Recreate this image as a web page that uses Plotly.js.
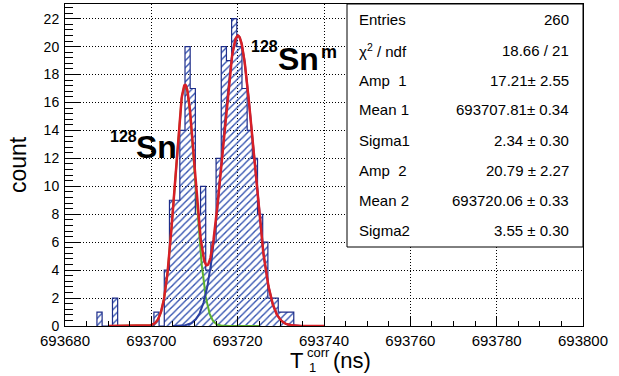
<!DOCTYPE html>
<html>
<head>
<meta charset="utf-8">
<script src="https://cdn.plot.ly/plotly-3.0.1.min.js"></script>
<style>html,body{margin:0;padding:0;background:#fff;}#plot{width:619px;height:376px;}</style>
</head>
<body>
<div id="plot"></div>
<script>
// ---- data ----
const binWidth = 1.2;
const binCenters = [693688.0, 693689.2, 693690.4, 693691.6, 693692.8, 693694.0, 693695.2, 693696.4, 693697.6, 693698.8,
  693700.0, 693701.2, 693702.4, 693703.6, 693704.8, 693706.0, 693707.2, 693708.4, 693709.6, 693710.8,
  693712.0, 693713.2, 693714.4, 693715.6, 693716.8, 693718.0, 693719.2, 693720.4, 693721.6, 693722.8,
  693724.0, 693725.2, 693726.4, 693727.6, 693728.8, 693730.0, 693731.2, 693732.4];
const counts = [1, 0, 0, 2, 0, 0, 0, 0, 0, 0,
  0, 1, 0, 4, 9, 9, 14, 20, 17, 8,
  10, 4, 6, 12, 20, 19, 22, 20, 17, 14,
  12, 8, 6, 2, 2, 1, 1, 1];

const fitAmp = [17.21, 20.79];
const fitMean = [693707.81, 693720.06];
const fitSigma = [2.34, 3.55];
const fitRangeTotal = [693690, 693740];
const fitRangeG1 = [693690, 693725];
const fitRangeG2 = [693705, 693740];

const statNames = ['Entries', '\u03c7<sup>2</sup> / ndf', 'Amp  1', 'Mean 1', 'Sigma1', 'Amp  2', 'Mean 2', 'Sigma2'];
const statValues = ['260', '18.66 / 21', '17.21\u00b1 2.55', '693707.81\u00b1 0.34', '2.34 \u00b1 0.30', '20.79 \u00b1 2.27', '693720.06 \u00b1 0.33', '3.55 \u00b1 0.30'];

const xTickVals = [693680, 693700, 693720, 693740, 693760, 693780, 693800];
const yTickVals = [0, 2, 4, 6, 8, 10, 12, 14, 16, 18, 20, 22];

// ---- helpers ----
function gaus(x, i) { const d = (x - fitMean[i]) / fitSigma[i]; return fitAmp[i] * Math.exp(-0.5 * d * d); }
function sample(range, f) {
  const xs = [], ys = [];
  const n = Math.round((range[1] - range[0]) / 0.1);
  for (let k = 0; k <= n; k++) { const x = range[0] + k * (range[1] - range[0]) / n; xs.push(x); ys.push(f(x)); }
  return {xs, ys};
}
const total = sample(fitRangeTotal, x => gaus(x, 0) + gaus(x, 1));
const g1 = sample(fitRangeG1, x => gaus(x, 0));
const g2 = sample(fitRangeG2, x => gaus(x, 1));

// step outline of the histogram
const stepX = [binCenters[0] - binWidth / 2], stepY = [0];
binCenters.forEach((c, i) => { stepX.push(c - binWidth / 2); stepY.push(counts[i]); });
stepX.push(binCenters[binCenters.length - 1] + binWidth / 2); stepY.push(0);

const FONT = 'Liberation Sans, Arial, Helvetica, sans-serif';
const L = 65, R = 583, T = 4, B = 326;
const px = v => (v - L) / (R - L);
const py = v => (B - v) / (B - T);

const traces = [
  {type: 'bar', x: binCenters, y: counts, width: binWidth, hoverinfo: 'skip',
   marker: {color: 'rgba(0,0,0,0)', line: {width: 0},
            pattern: {shape: '/', fillmode: 'replace', fgcolor: '#3352b0', bgcolor: 'rgba(0,0,0,0)', size: 5, solidity: 0.28}}},
  {type: 'scatter', mode: 'lines', x: stepX, y: stepY, line: {shape: 'hv', color: '#1e2d8a', width: 1.2}, hoverinfo: 'skip'},
  {type: 'scatter', mode: 'lines', x: g1.xs, y: g1.ys, line: {color: '#5cb130', width: 2}, hoverinfo: 'skip'},
  {type: 'scatter', mode: 'lines', x: g2.xs, y: g2.ys, line: {color: '#2a3fa0', width: 2}, hoverinfo: 'skip'},
  {type: 'scatter', mode: 'lines', x: total.xs, y: total.ys, line: {color: '#d81f26', width: 2.5}, hoverinfo: 'skip'}
];

const ann = (x, y, text, size, opts) => Object.assign({xref: 'paper', yref: 'paper', x: px(x), y: py(y), xanchor: 'left', yanchor: 'middle',
  text: text, showarrow: false, font: {family: FONT, size: size, color: '#000'}}, opts || {});
const bold = (x, y, text, size) => { const a = ann(x, y, text, size); a.font.weight = 'bold'; return a; };

const annotations = [];
statNames.forEach((t, i) => {
  const yy = 20 + i * 30;
  annotations.push(ann(357, yy, t, 15));
  annotations.push(ann(571, yy, statValues[i], 15, {xanchor: 'right'}));
});
// isotope labels
annotations.push(bold(108, 137, '128', 16));
annotations.push(bold(134, 147, 'Sn', 32));
annotations.push(bold(249, 46, '128', 16));
annotations.push(bold(276, 59, 'Sn', 32));
annotations.push(bold(319, 52, 'm', 18));
// x-axis title  T_1^corr (ns)
annotations.push(ann(288, 360, 'T', 22));
annotations.push(ann(305, 352, 'corr', 13));
annotations.push(ann(307, 367, '1', 13));
annotations.push(ann(331, 360, '(ns)', 22));

const layout = {
  width: 619, height: 376,
  margin: {l: L, r: 619 - R, t: T, b: 376 - B},
  paper_bgcolor: '#fff', plot_bgcolor: '#fff',
  showlegend: false, bargap: 0,
  font: {family: FONT, color: '#000'},
  xaxis: {range: [693680, 693800], tickvals: xTickVals, ticktext: xTickVals.map(String),
          ticks: 'inside', ticklen: 9.7, tickwidth: 1, tickcolor: '#000',
          minor: {ticks: 'inside', ticklen: 4.8, dtick: 5, tick0: 693680, tickcolor: '#000', showgrid: false},
          showline: true, mirror: true, linecolor: '#000', linewidth: 1,
          showgrid: true, gridcolor: '#000', gridwidth: 1, griddash: '1px,2px', zeroline: false,
          tickfont: {family: FONT, size: 15, color: '#000'}, ticklabelstandoff: 1},
  yaxis: {range: [0, 23.05], tickvals: yTickVals, ticktext: yTickVals.map(String),
          ticks: 'inside', ticklen: 15.5, tickwidth: 1, tickcolor: '#000',
          minor: {ticks: 'inside', ticklen: 7.8, dtick: 0.4, tick0: 0, tickcolor: '#000', showgrid: false},
          showline: true, mirror: true, linecolor: '#000', linewidth: 1,
          showgrid: true, gridcolor: '#000', gridwidth: 1, griddash: '1px,2px', zeroline: false,
          tickfont: {family: FONT, size: 14, color: '#000'}, ticklabelstandoff: 2,
          title: {text: 'count', font: {family: FONT, size: 23, color: '#000'}, standoff: 10}},
  shapes: [{type: 'rect', xref: 'paper', yref: 'paper', x0: px(347), x1: 1, y0: py(247), y1: 1,
            fillcolor: '#fff', line: {color: '#000', width: 1}, layer: 'above'}],
  annotations: annotations
};

Plotly.newPlot('plot', traces, layout, {staticPlot: true, displayModeBar: false});
</script>
</body>
</html>
